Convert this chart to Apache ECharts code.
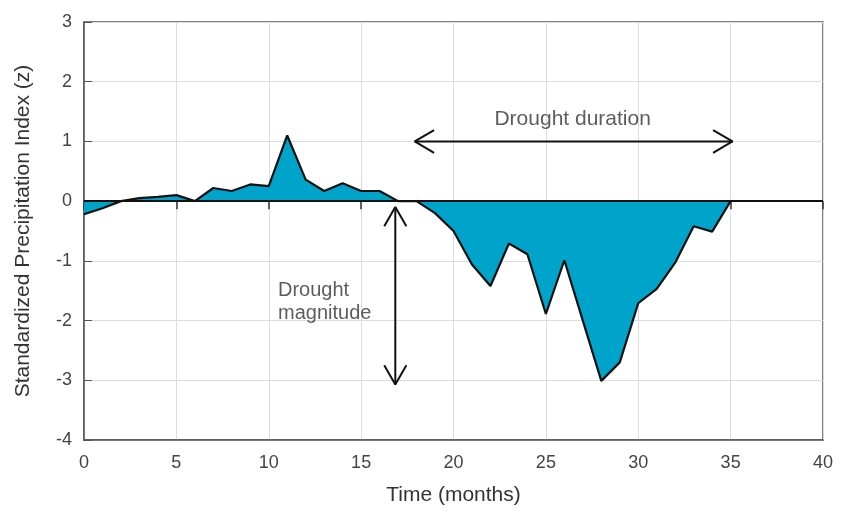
<!DOCTYPE html>
<html>
<head>
<meta charset="utf-8">
<script src="https://cdn.jsdelivr.net/npm/echarts@6/dist/echarts.min.js"></script>
<style>html,body{margin:0;padding:0;background:#fff;}#c{width:846px;height:511px;}</style>
</head>
<body>
<div id="c"></div>
<script>
const months = [0,1,2,3,4,5,6,7,8,9,10,11,12,13,14,15,16,17,18,19,20,21,22,23,24,25,26,27,28,29,30,31,32,33,34,35];
const spi = [-0.22,-0.12,0,0.05,0.07,0.1,0,0.22,0.17,0.28,0.25,1.1,0.36,0.17,0.3,0.17,0.17,0,0,-0.2,-0.5,-1.06,-1.42,-0.71,-0.89,-1.89,-0.99,-2.0,-3.01,-2.7,-1.71,-1.47,-1.03,-0.42,-0.51,0];
const xTicks = [0,5,10,15,20,25,30,35,40];
const yTicks = [-4,-3,-2,-1,0,1,2,3];
// annotation arrows (data coordinates)
const durationShaft = [[17.9,1],[35.1,1]];
const durationHeadL = [[18.95,1.19],[17.9,1],[18.95,0.81]];
const durationHeadR = [[34.05,1.19],[35.1,1],[34.05,0.81]];
const magnitudeShaft = [[16.85,-0.1],[16.85,-3.07]];
const magnitudeHeadT = [[16.25,-0.42],[16.85,-0.1],[17.45,-0.42]];
const magnitudeHeadB = [[16.25,-2.75],[16.85,-3.07],[17.45,-2.75]];
const labelDuration = [[26.45,1.37,'Drought duration']];
const labelMagnitude = [[10.5,-1.69,'Drought\nmagnitude']];

const chart = echarts.init(document.getElementById('c'));
const arrowStyle = {type:'line', symbol:'none', silent:true, z:5, lineStyle:{color:'#111', width:2}};
const font = 'Liberation Sans, Arial, Helvetica, sans-serif';
chart.setOption({
  animation:false,
  textStyle:{fontFamily:font},
  grid:{left:84,right:23,top:22,bottom:70,show:true,borderColor:'#555',borderWidth:1.5,backgroundColor:'transparent'},
  xAxis:[{
    type:'value',min:0,max:40,interval:5,position:'bottom',
    axisLine:{onZero:false,show:true,lineStyle:{color:'#555',width:1.5}},
    axisTick:{show:false},
    axisLabel:{color:'#444',fontSize:18,margin:14,fontFamily:font,formatter:v=>xTicks.includes(v)?String(v):''},
    splitLine:{show:true,lineStyle:{color:'#dcdcdc',width:1}},
    name:'Time (months)',nameLocation:'middle',nameGap:45,
    nameTextStyle:{color:'#333',fontSize:21,fontFamily:font}
  },{
    type:'value',min:0,max:40,interval:5,position:'top',
    axisLine:{onZero:true,show:false},
    axisTick:{show:true,inside:true,length:8,lineStyle:{color:'#333',width:1.5}},
    axisLabel:{show:false},splitLine:{show:false}
  }],
  yAxis:{
    type:'value',min:-4,max:3,interval:1,
    axisLine:{show:true,lineStyle:{color:'#555',width:1.5}},
    axisTick:{show:true,inside:true,length:8,lineStyle:{color:'#555',width:1}},
    axisLabel:{color:'#444',fontSize:18,margin:12,fontFamily:font,formatter:v=>yTicks.includes(v)?String(v):''},
    splitLine:{show:true,lineStyle:{color:'#dcdcdc',width:1}},
    name:'Standardized Precipitation Index (z)',nameLocation:'middle',nameGap:50,
    nameTextStyle:{color:'#333',fontSize:21,fontFamily:font}
  },
  series:[
    {type:'line',data:months.map((m,i)=>[m,spi[i]]),symbol:'none',z:3,
      lineStyle:{color:'#111',width:2.2},
      areaStyle:{color:'#00a3c9',opacity:1,origin:'auto'},
      markLine:{silent:true,symbol:'none',label:{show:false},z:6,
        lineStyle:{color:'#111',width:2,type:'solid'},data:[{yAxis:0}]}},
    Object.assign({data:durationShaft},arrowStyle),
    Object.assign({data:durationHeadL},arrowStyle),
    Object.assign({data:durationHeadR},arrowStyle),
    Object.assign({data:magnitudeShaft},arrowStyle),
    Object.assign({data:magnitudeHeadT},arrowStyle),
    Object.assign({data:magnitudeHeadB},arrowStyle),
    {type:'scatter',data:labelDuration,symbolSize:0,silent:true,
      label:{show:true,position:'inside',formatter:p=>p.data[2],color:'#333',fontSize:21,fontFamily:font}},
    {type:'scatter',data:labelMagnitude,symbolSize:0,silent:true,
      label:{show:true,position:'right',distance:0,align:'left',formatter:p=>p.data[2],color:'#333',fontSize:20,lineHeight:23,fontFamily:font}}
  ]
});
</script>
</body>
</html>
